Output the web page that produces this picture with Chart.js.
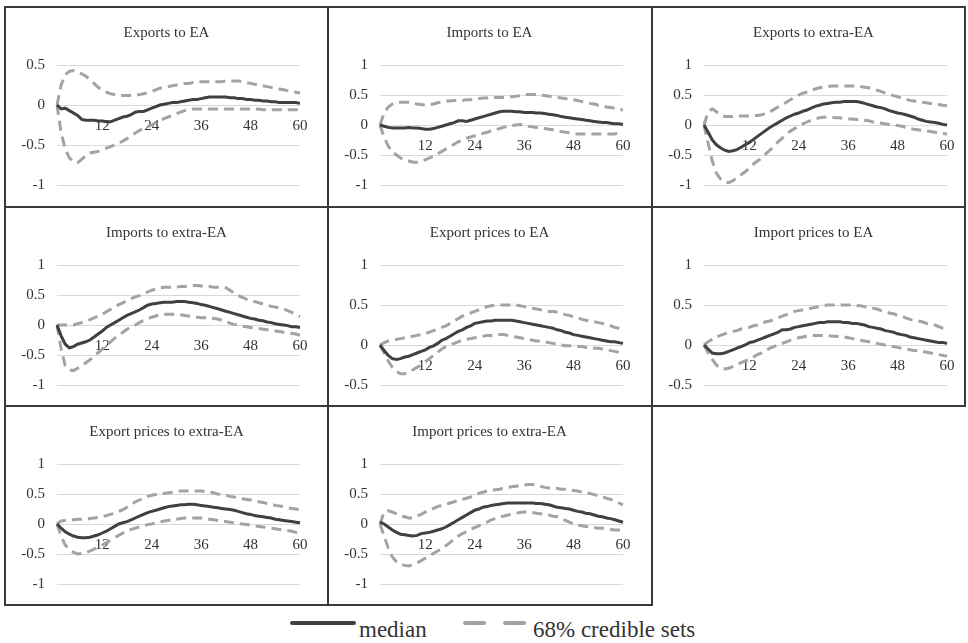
<!DOCTYPE html>
<html>
<head>
<meta charset="utf-8">
<script src="https://cdn.jsdelivr.net/npm/chart.js@4.4.1/dist/chart.umd.min.js"></script>
<style>
  html, body { margin: 0; padding: 0; background: #ffffff; }
  body { width: 968px; height: 643px; position: relative; overflow: hidden; font-family: "Liberation Serif", "Times New Roman", serif; }
  canvas.panel { position: absolute; }
  .rule { position: absolute; background: #3a3a3a; z-index: 5; }
  .legend { position: absolute; top: 612px; left: 0; width: 968px; height: 30px; }
  .lg-line { position: absolute; height: 4px; border-radius: 2px; }
  .lg-text { position: absolute; top: 6px; font-family: "Liberation Serif", "Times New Roman", serif; font-size: 23px; color: #333; line-height: 24px; white-space: nowrap; }
</style>
</head>
<body>
<script>
// ---------------- data ----------------
const periods = Array.from({length: 60}, (_, i) => i + 1);
const xTickLabels = [12, 24, 36, 48, 60];
const panelTitles = ["Exports to EA", "Imports to EA", "Exports to extra-EA",
  "Imports to extra-EA", "Export prices to EA", "Import prices to EA",
  "Export prices to extra-EA", "Import prices to extra-EA"];
const yMins = [-1, -1, -1, -1, -0.5, -0.5, -1, -1];
const yMaxs = [0.5, 1, 1, 1, 1, 1, 1, 1];
const legendLabels = ["median", "68% credible sets"];

const exportsEA_median = [0,-0.05,-0.04,-0.07,-0.1,-0.13,-0.18,-0.19,-0.19,-0.19, -0.2,-0.2,-0.21,-0.21,-0.19,-0.17,-0.15,-0.14,-0.12,-0.09, -0.08,-0.08,-0.06,-0.04,-0.02,0,0.01,0.02,0.03,0.03, 0.04,0.05,0.06,0.07,0.07,0.08,0.09,0.1,0.1,0.1, 0.1,0.1,0.09,0.09,0.08,0.08,0.07,0.07,0.06,0.06, 0.05,0.05,0.04,0.04,0.03,0.03,0.03,0.03,0.03,0.02];
const exportsEA_upper = [0,0.25,0.38,0.42,0.43,0.41,0.39,0.36,0.32,0.27, 0.22,0.19,0.16,0.14,0.13,0.12,0.12,0.12,0.12,0.12, 0.13,0.14,0.15,0.17,0.19,0.21,0.22,0.23,0.24,0.25, 0.26,0.27,0.27,0.28,0.28,0.29,0.29,0.29,0.29,0.29, 0.29,0.3,0.3,0.3,0.3,0.29,0.28,0.27,0.26,0.25, 0.24,0.23,0.22,0.21,0.2,0.19,0.18,0.17,0.16,0.15];
const exportsEA_lower = [0,-0.35,-0.55,-0.66,-0.71,-0.72,-0.68,-0.63,-0.6,-0.59, -0.58,-0.56,-0.54,-0.52,-0.5,-0.48,-0.45,-0.42,-0.39,-0.35, -0.32,-0.29,-0.27,-0.25,-0.22,-0.19,-0.17,-0.15,-0.13,-0.11, -0.09,-0.07,-0.06,-0.05,-0.05,-0.05,-0.05,-0.05,-0.05,-0.05, -0.05,-0.05,-0.05,-0.05,-0.05,-0.05,-0.05,-0.05,-0.05,-0.05, -0.06,-0.06,-0.06,-0.06,-0.06,-0.06,-0.06,-0.06,-0.06,-0.06];

const importsEA_median = [0,-0.02,-0.04,-0.05,-0.05,-0.05,-0.05,-0.04,-0.05,-0.05, -0.06,-0.07,-0.07,-0.06,-0.04,-0.02,0,0.02,0.04,0.07, 0.07,0.06,0.08,0.1,0.12,0.14,0.16,0.18,0.2,0.22, 0.23,0.23,0.23,0.22,0.22,0.21,0.21,0.21,0.2,0.2, 0.19,0.18,0.17,0.16,0.14,0.13,0.12,0.11,0.1,0.09, 0.08,0.07,0.06,0.05,0.04,0.04,0.03,0.02,0.02,0.01];
const importsEA_upper = [0,0.2,0.3,0.35,0.37,0.38,0.38,0.38,0.37,0.35, 0.34,0.33,0.34,0.35,0.37,0.38,0.4,0.4,0.41,0.41, 0.41,0.42,0.42,0.43,0.44,0.45,0.45,0.46,0.46,0.46, 0.46,0.46,0.47,0.48,0.49,0.5,0.51,0.51,0.51,0.5, 0.49,0.48,0.47,0.46,0.45,0.44,0.43,0.42,0.41,0.39, 0.38,0.36,0.35,0.33,0.32,0.3,0.29,0.28,0.26,0.25];
const importsEA_lower = [0,-0.2,-0.35,-0.45,-0.5,-0.55,-0.58,-0.6,-0.62,-0.62, -0.6,-0.58,-0.55,-0.52,-0.48,-0.44,-0.4,-0.36,-0.32,-0.28, -0.25,-0.22,-0.2,-0.18,-0.16,-0.14,-0.12,-0.1,-0.08,-0.06, -0.04,-0.02,-0.01,0,0.01,0,-0.02,-0.03,-0.04,-0.05, -0.06,-0.07,-0.08,-0.1,-0.11,-0.12,-0.13,-0.14,-0.15,-0.15, -0.15,-0.15,-0.15,-0.15,-0.15,-0.15,-0.15,-0.15,-0.13,-0.12];

const exportsXEA_median = [0,-0.12,-0.25,-0.33,-0.38,-0.42,-0.44,-0.43,-0.41,-0.37, -0.33,-0.29,-0.24,-0.19,-0.14,-0.09,-0.04,0,0.04,0.08, 0.12,0.15,0.18,0.2,0.23,0.25,0.28,0.31,0.33,0.35, 0.36,0.37,0.38,0.38,0.39,0.39,0.39,0.39,0.38,0.36, 0.34,0.32,0.3,0.29,0.27,0.24,0.22,0.2,0.19,0.17, 0.15,0.13,0.1,0.08,0.06,0.05,0.04,0.03,0.01,0];
const exportsXEA_upper = [0,0.22,0.27,0.22,0.17,0.14,0.14,0.14,0.15,0.15, 0.15,0.15,0.16,0.16,0.17,0.19,0.22,0.26,0.3,0.34, 0.38,0.42,0.46,0.5,0.53,0.55,0.58,0.6,0.62,0.63, 0.64,0.65,0.65,0.65,0.65,0.65,0.65,0.65,0.64,0.63, 0.62,0.6,0.58,0.56,0.53,0.51,0.49,0.47,0.45,0.43, 0.41,0.4,0.39,0.38,0.37,0.36,0.35,0.34,0.33,0.32];
const exportsXEA_lower = [0,-0.3,-0.6,-0.8,-0.9,-0.95,-0.96,-0.93,-0.88,-0.83, -0.78,-0.72,-0.65,-0.6,-0.55,-0.48,-0.42,-0.35,-0.28,-0.22, -0.16,-0.1,-0.06,-0.02,0.02,0.05,0.08,0.1,0.12,0.13, 0.13,0.13,0.12,0.12,0.11,0.1,0.1,0.09,0.09,0.08, 0.07,0.05,0.04,0.03,0.02,0.01,0,-0.01,-0.02,-0.04, -0.06,-0.07,-0.08,-0.09,-0.1,-0.11,-0.12,-0.13,-0.14,-0.15];

const importsXEA_median = [0,-0.18,-0.32,-0.38,-0.36,-0.32,-0.3,-0.28,-0.25,-0.2, -0.15,-0.1,-0.04,0,0.04,0.08,0.12,0.16,0.19,0.22, 0.25,0.29,0.33,0.35,0.36,0.37,0.38,0.38,0.38,0.39, 0.39,0.39,0.38,0.37,0.36,0.34,0.33,0.31,0.29,0.27, 0.25,0.23,0.21,0.19,0.17,0.15,0.13,0.11,0.1,0.08, 0.07,0.05,0.04,0.02,0.01,0,-0.01,-0.03,-0.03,-0.04];
const importsXEA_upper = [0,0,0,0,0,0.02,0.04,0.06,0.09,0.12, 0.15,0.18,0.22,0.26,0.3,0.34,0.37,0.41,0.44,0.47, 0.49,0.52,0.55,0.58,0.6,0.62,0.63,0.63,0.63,0.63, 0.64,0.64,0.65,0.66,0.66,0.65,0.64,0.64,0.63,0.63, 0.63,0.62,0.58,0.53,0.49,0.46,0.43,0.41,0.39,0.37, 0.35,0.33,0.31,0.3,0.28,0.27,0.24,0.21,0.17,0.14];
const importsXEA_lower = [0,-0.4,-0.68,-0.75,-0.76,-0.72,-0.68,-0.63,-0.58,-0.52, -0.46,-0.4,-0.34,-0.28,-0.22,-0.17,-0.12,-0.07,-0.03,0, 0.04,0.08,0.1,0.13,0.15,0.17,0.18,0.18,0.18,0.18, 0.17,0.16,0.15,0.14,0.13,0.12,0.12,0.12,0.11,0.1, 0.08,0.06,0.03,0.01,0,-0.02,-0.03,-0.04,-0.05,-0.06, -0.07,-0.08,-0.09,-0.1,-0.11,-0.12,-0.13,-0.14,-0.15,-0.17];

const expPricesEA_median = [0,-0.07,-0.13,-0.17,-0.18,-0.17,-0.15,-0.14,-0.12,-0.1, -0.08,-0.06,-0.03,-0.01,0.02,0.06,0.08,0.11,0.14,0.17, 0.19,0.22,0.24,0.27,0.28,0.29,0.3,0.3,0.31,0.31, 0.31,0.31,0.31,0.3,0.29,0.28,0.27,0.26,0.25,0.24, 0.23,0.22,0.21,0.19,0.18,0.16,0.15,0.13,0.12,0.11, 0.1,0.09,0.08,0.07,0.06,0.05,0.04,0.04,0.03,0.02];
const expPricesEA_upper = [0,0.03,0.05,0.06,0.07,0.08,0.09,0.1,0.11,0.12, 0.13,0.14,0.16,0.18,0.2,0.22,0.24,0.27,0.3,0.33, 0.36,0.38,0.4,0.42,0.44,0.46,0.48,0.49,0.5,0.5, 0.5,0.5,0.5,0.5,0.49,0.48,0.47,0.46,0.45,0.44, 0.43,0.42,0.42,0.41,0.4,0.38,0.37,0.35,0.34,0.32, 0.31,0.3,0.29,0.28,0.27,0.25,0.24,0.22,0.21,0.2];
const expPricesEA_lower = [0,-0.1,-0.2,-0.28,-0.33,-0.36,-0.36,-0.34,-0.31,-0.28, -0.25,-0.21,-0.17,-0.13,-0.09,-0.05,-0.02,0,0.02,0.04, 0.06,0.07,0.08,0.09,0.1,0.11,0.12,0.12,0.13,0.13, 0.13,0.12,0.11,0.1,0.09,0.08,0.07,0.06,0.05,0.05, 0.04,0.03,0.02,0.01,0,-0.01,-0.01,-0.02,-0.02,-0.02, -0.03,-0.03,-0.04,-0.04,-0.05,-0.06,-0.07,-0.08,-0.09,-0.1];

const impPricesEA_median = [0,-0.05,-0.1,-0.11,-0.11,-0.1,-0.08,-0.06,-0.04,-0.02, 0,0.03,0.04,0.06,0.08,0.1,0.12,0.14,0.16,0.19, 0.19,0.2,0.22,0.23,0.24,0.25,0.26,0.27,0.28,0.28, 0.29,0.29,0.29,0.29,0.28,0.28,0.27,0.27,0.26,0.25, 0.23,0.22,0.21,0.2,0.18,0.17,0.16,0.14,0.13,0.12, 0.1,0.09,0.08,0.07,0.06,0.05,0.04,0.03,0.03,0.02];
const impPricesEA_upper = [0,0.04,0.07,0.1,0.12,0.14,0.16,0.17,0.18,0.2, 0.21,0.22,0.24,0.25,0.27,0.29,0.3,0.32,0.34,0.36, 0.38,0.4,0.42,0.43,0.44,0.45,0.46,0.47,0.48,0.49, 0.5,0.5,0.5,0.5,0.5,0.5,0.5,0.49,0.49,0.48, 0.47,0.46,0.45,0.43,0.42,0.4,0.39,0.37,0.36,0.34, 0.32,0.31,0.3,0.29,0.27,0.26,0.25,0.23,0.21,0.2];
const impPricesEA_lower = [0,-0.1,-0.18,-0.25,-0.29,-0.3,-0.29,-0.27,-0.25,-0.22, -0.2,-0.18,-0.15,-0.12,-0.1,-0.07,-0.04,-0.02,0,0.02, 0.04,0.06,0.08,0.09,0.1,0.11,0.12,0.12,0.12,0.12, 0.12,0.11,0.11,0.1,0.1,0.09,0.08,0.07,0.06,0.05, 0.04,0.03,0.02,0.01,0,-0.01,-0.02,-0.03,-0.04,-0.05, -0.06,-0.07,-0.07,-0.08,-0.09,-0.1,-0.11,-0.12,-0.13,-0.14];

const expPricesXEA_median = [0,-0.07,-0.13,-0.17,-0.2,-0.22,-0.23,-0.23,-0.22,-0.2, -0.18,-0.15,-0.12,-0.08,-0.04,0,0.02,0.04,0.07,0.1, 0.13,0.16,0.19,0.21,0.23,0.25,0.27,0.29,0.3,0.31, 0.32,0.32,0.33,0.33,0.32,0.31,0.3,0.29,0.28,0.27, 0.26,0.25,0.24,0.23,0.21,0.19,0.17,0.16,0.14,0.13, 0.12,0.11,0.1,0.08,0.07,0.06,0.05,0.04,0.03,0.02];
const expPricesXEA_upper = [0,0.05,0.06,0.07,0.07,0.08,0.08,0.08,0.09,0.1, 0.11,0.12,0.14,0.16,0.18,0.21,0.24,0.28,0.32,0.37, 0.4,0.43,0.46,0.48,0.49,0.5,0.51,0.52,0.53,0.54, 0.55,0.55,0.55,0.55,0.55,0.55,0.54,0.53,0.52,0.5, 0.49,0.48,0.46,0.45,0.43,0.42,0.41,0.4,0.38,0.37, 0.36,0.34,0.33,0.31,0.3,0.29,0.27,0.26,0.25,0.24];
const expPricesXEA_lower = [0,-0.2,-0.35,-0.43,-0.47,-0.5,-0.49,-0.48,-0.45,-0.42, -0.38,-0.35,-0.31,-0.27,-0.23,-0.19,-0.15,-0.12,-0.09,-0.07, -0.05,-0.03,-0.01,0,0.02,0.03,0.05,0.06,0.07,0.08, 0.09,0.1,0.1,0.1,0.1,0.1,0.09,0.08,0.07,0.06, 0.05,0.04,0.03,0.02,0.01,0,-0.01,-0.02,-0.03,-0.04, -0.05,-0.06,-0.07,-0.08,-0.09,-0.1,-0.11,-0.12,-0.14,-0.16];

const impPricesXEA_median = [0.03,0,-0.05,-0.1,-0.14,-0.17,-0.18,-0.19,-0.2,-0.19, -0.16,-0.15,-0.14,-0.12,-0.1,-0.08,-0.05,-0.01,0.03,0.07, 0.11,0.15,0.19,0.23,0.25,0.28,0.29,0.31,0.32,0.33, 0.34,0.35,0.35,0.35,0.35,0.35,0.35,0.35,0.34,0.34, 0.33,0.32,0.3,0.28,0.27,0.26,0.25,0.23,0.21,0.2, 0.18,0.17,0.15,0.13,0.12,0.1,0.09,0.07,0.05,0.03];
const impPricesXEA_upper = [0,0.2,0.22,0.2,0.17,0.14,0.12,0.1,0.1,0.13, 0.16,0.2,0.23,0.26,0.29,0.31,0.33,0.35,0.37,0.39, 0.41,0.43,0.45,0.48,0.51,0.53,0.55,0.56,0.57,0.58, 0.6,0.61,0.62,0.63,0.64,0.65,0.66,0.66,0.65,0.63, 0.61,0.6,0.59,0.59,0.58,0.58,0.57,0.56,0.55,0.53, 0.52,0.51,0.49,0.47,0.45,0.43,0.41,0.38,0.35,0.32];
const impPricesXEA_lower = [0,-0.2,-0.4,-0.55,-0.63,-0.67,-0.69,-0.7,-0.68,-0.65, -0.61,-0.57,-0.53,-0.49,-0.45,-0.41,-0.36,-0.31,-0.25,-0.2, -0.16,-0.13,-0.09,-0.06,-0.03,0,0.03,0.07,0.09,0.12, 0.13,0.15,0.16,0.18,0.19,0.2,0.2,0.19,0.18,0.17, 0.16,0.15,0.13,0.12,0.09,0.06,0.03,0,-0.02,-0.03, -0.04,-0.05,-0.06,-0.07,-0.07,-0.08,-0.09,-0.1,-0.1,-0.11];

const medians = [exportsEA_median, importsEA_median, exportsXEA_median, importsXEA_median,
  expPricesEA_median, impPricesEA_median, expPricesXEA_median, impPricesXEA_median];
const uppers = [exportsEA_upper, importsEA_upper, exportsXEA_upper, importsXEA_upper,
  expPricesEA_upper, impPricesEA_upper, expPricesXEA_upper, impPricesXEA_upper];
const lowers = [exportsEA_lower, importsEA_lower, exportsXEA_lower, importsXEA_lower,
  expPricesEA_lower, impPricesEA_lower, expPricesXEA_lower, impPricesXEA_lower];

// ---------------- layout & style ----------------
const colLefts = [5, 328, 652];
const rowTops = [7, 207, 406];
const PANEL_W = 323, PANEL_H = 199;
const FONT = '"Liberation Serif", "Times New Roman", serif';
const MEDIAN_COLOR = '#404040';
const BAND_COLOR = '#a3a3a3';
const GRID_COLOR = '#d9d9d9';
const TEXT_COLOR = '#333333';

function makePanel(i) {
  const c = document.createElement('canvas');
  c.className = 'panel';
  c.width = PANEL_W; c.height = PANEL_H;
  c.style.left = colLefts[i % 3] + 'px';
  c.style.top = rowTops[Math.floor(i / 3)] + 'px';
  c.style.width = PANEL_W + 'px'; c.style.height = PANEL_H + 'px';
  document.body.appendChild(c);

  new Chart(c, {
    type: 'line',
    data: {
      labels: periods,
      datasets: [
        { label: legendLabels[0], data: medians[i], borderColor: MEDIAN_COLOR, borderWidth: 3,
          pointRadius: 0, tension: 0, fill: false },
        { label: legendLabels[1], data: uppers[i], borderColor: BAND_COLOR, borderWidth: 3,
          borderDash: [10, 6], pointRadius: 0, tension: 0, fill: false },
        { label: legendLabels[1], data: lowers[i], borderColor: BAND_COLOR, borderWidth: 3,
          borderDash: [10, 6], pointRadius: 0, tension: 0, fill: false }
      ]
    },
    options: {
      responsive: false,
      animation: false,
      devicePixelRatio: 1,
      layout: { padding: { left: 0, right: 0, top: 0, bottom: 20 } },
      plugins: {
        legend: { display: false },
        tooltip: { enabled: false },
        title: {
          display: true, text: panelTitles[i], color: TEXT_COLOR,
          font: { family: FONT, size: 15, weight: 'normal', lineHeight: 1.2 },
          padding: { top: 17, bottom: 23 }
        }
      },
      scales: {
        x: {
          type: 'category',
          position: { y: 0 },
          grid: { display: false, drawTicks: false },
          border: { display: false },
          ticks: {
            autoSkip: false, maxRotation: 0, minRotation: 0, padding: 12,
            color: TEXT_COLOR, font: { family: FONT, size: 15 },
            callback: function (v) {
              const lab = this.getLabelForValue(v);
              return xTickLabels.includes(Number(lab)) ? String(lab) : '';
            }
          },
          afterFit: s => { s.height = 0; }
        },
        y: {
          min: yMins[i], max: yMaxs[i],
          grid: { color: GRID_COLOR, lineWidth: 1, drawTicks: false },
          border: { display: false },
          ticks: {
            stepSize: 0.5, padding: 12, color: TEXT_COLOR, font: { family: FONT, size: 15 },
            callback: v => String(Math.round(v * 10) / 10)
          },
          afterFit: s => { s.width = 52; }
        },
        // empty right-hand spacer so the title stays centred on the whole panel
        ySpacer: {
          position: 'right',
          grid: { display: false, drawTicks: false },
          border: { display: false },
          ticks: { display: false },
          afterFit: s => { s.width = 28; }
        }
      }
    }
  });
}

for (let i = 0; i < 8; i++) makePanel(i);

// panel frame rules
function rule(x, y, w, h) {
  const d = document.createElement('div');
  d.className = 'rule';
  d.style.left = x + 'px'; d.style.top = y + 'px';
  d.style.width = w + 'px'; d.style.height = h + 'px';
  document.body.appendChild(d);
}
rule(4, 6, 962, 2);     // top
rule(4, 206, 962, 2);   // row 1/2
rule(4, 405, 962, 2);   // row 2/3
rule(4, 604, 649, 2);   // bottom
rule(4, 6, 2, 600);     // left
rule(327, 6, 2, 600);   // col 1/2
rule(651, 6, 2, 600);   // col 2/3
rule(964, 6, 2, 401);   // right

// legend
const lg = document.createElement('div');
lg.className = 'legend';
lg.innerHTML =
  '<div class="lg-line" style="left:290px;top:9px;width:66px;background:' + MEDIAN_COLOR + '"></div>' +
  '<div class="lg-text" style="left:359px">' + legendLabels[0] + '</div>' +
  '<div class="lg-line" style="left:463px;top:9px;width:23px;background:' + BAND_COLOR + '"></div>' +
  '<div class="lg-line" style="left:503px;top:9px;width:23px;background:' + BAND_COLOR + '"></div>' +
  '<div class="lg-text" style="left:533px">' + legendLabels[1] + '</div>';
document.body.appendChild(lg);
</script>
</body>
</html>
